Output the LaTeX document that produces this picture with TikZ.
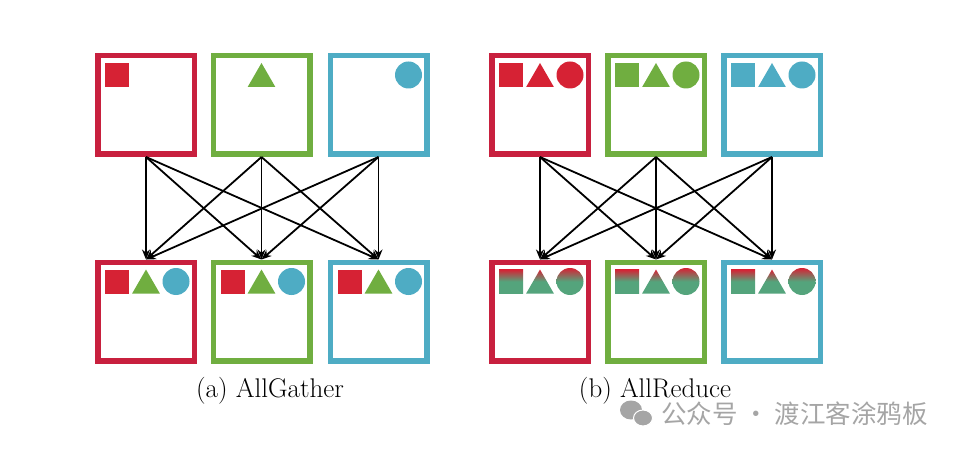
\documentclass[tikz,border=0pt]{standalone}
\usepackage{fontspec}
\newfontfamily\cjkfont{Noto Sans CJK SC}
\usetikzlibrary{shapes.geometric,arrows.meta,calc}
\definecolor{cred}{RGB}{200,32,62}
\definecolor{fred}{RGB}{214,34,52}
\definecolor{cgreen}{RGB}{112,174,64}
\definecolor{cblue}{RGB}{78,172,196}
\definecolor{cmix}{RGB}{84,164,124}
\definecolor{wmgray}{RGB}{165,165,165}
\tikzset{
  every picture/.style={>={Stealth[length=10pt,width=8pt]}}}

\begin{document}
\begin{tikzpicture}[x=1pt, y=-1pt,
    gpu/.style={
      draw=#1, line width=5.5pt, fill=white,
      minimum width=96.5pt, minimum height=98.5pt,
      inner sep=0pt},
    sq/.style={rectangle, minimum size=24pt, inner sep=0pt},
    tri/.style={regular polygon, regular polygon sides=3,
      minimum size=32pt, inner sep=0pt},
    crc/.style={circle, minimum size=27pt, inner sep=0pt},
    mix/.style={top color=fred, bottom color=cmix, middle color=cmix},
    link/.style={->, line width=1.8pt, black},
    caption/.style={font=\fontsize{27}{30}\selectfont, anchor=base}]

    \useasboundingbox (0,0) rectangle (960,454);

    % (a) AllGather
    \node[gpu=cred]   (ga1) at (146,105) {};
    \node[gpu=cgreen] (ga2) at (261.5,105) {};
    \node[gpu=cblue]  (ga3) at (378.5,105) {};
    \node[gpu=cred]   (gb1) at (146,311.5) {};
    \node[gpu=cgreen] (gb2) at (261.5,311.5) {};
    \node[gpu=cblue]  (gb3) at (378.5,311.5) {};

    \node[sq, fill=fred]    (ga1s) at ($(ga1)+(-29,-30)$) {};
    \node[tri, fill=cgreen] (ga2t) at ($(ga2)+(0,-26)$) {};
    \node[crc, fill=cblue]  (ga3c) at ($(ga3)+(30,-30)$) {};

    \node[sq, fill=fred]    (gb1s) at ($(gb1)+(-29,-30)$) {};
    \node[tri, fill=cgreen] (gb1t) at ($(gb1)+(0,-26)$) {};
    \node[crc, fill=cblue]  (gb1c) at ($(gb1)+(30,-30)$) {};
    \node[sq, fill=fred]    (gb2s) at ($(gb2)+(-29,-30)$) {};
    \node[tri, fill=cgreen] (gb2t) at ($(gb2)+(0,-26)$) {};
    \node[crc, fill=cblue]  (gb2c) at ($(gb2)+(30,-30)$) {};
    \node[sq, fill=fred]    (gb3s) at ($(gb3)+(-29,-30)$) {};
    \node[tri, fill=cgreen] (gb3t) at ($(gb3)+(0,-26)$) {};
    \node[crc, fill=cblue]  (gb3c) at ($(gb3)+(30,-30)$) {};

    \draw[link] (ga1.south) -- (gb1.north);
    \draw[link] (ga1.south) -- (gb2.north);
    \draw[link] (ga1.south) -- (gb3.north);
    \draw[link] (ga2.south) -- (gb1.north);
    \draw[link] (ga2.south) -- (gb2.north);
    \draw[link] (ga2.south) -- (gb3.north);
    \draw[link] (ga3.south) -- (gb1.north);
    \draw[link] (ga3.south) -- (gb2.north);
    \draw[link] (ga3.south) -- (gb3.north);

    \node[caption] (capa) at (270,397) {(a) AllGather};

    % (b) AllReduce
    \node[gpu=cred]   (ra1) at (540,105) {};
    \node[gpu=cgreen] (ra2) at (656,105) {};
    \node[gpu=cblue]  (ra3) at (772,105) {};
    \node[gpu=cred]   (rb1) at (540,311.5) {};
    \node[gpu=cgreen] (rb2) at (656,311.5) {};
    \node[gpu=cblue]  (rb3) at (772,311.5) {};

    \node[sq, fill=fred]    (ra1s) at ($(ra1)+(-29,-30)$) {};
    \node[tri, fill=fred]   (ra1t) at ($(ra1)+(0,-26)$) {};
    \node[crc, fill=fred]   (ra1c) at ($(ra1)+(30,-30)$) {};
    \node[sq, fill=cgreen]  (ra2s) at ($(ra2)+(-29,-30)$) {};
    \node[tri, fill=cgreen] (ra2t) at ($(ra2)+(0,-26)$) {};
    \node[crc, fill=cgreen] (ra2c) at ($(ra2)+(30,-30)$) {};
    \node[sq, fill=cblue]   (ra3s) at ($(ra3)+(-29,-30)$) {};
    \node[tri, fill=cblue]  (ra3t) at ($(ra3)+(0,-26)$) {};
    \node[crc, fill=cblue]  (ra3c) at ($(ra3)+(30,-30)$) {};

    \node[sq, mix]  (rb1s) at ($(rb1)+(-29,-30)$) {};
    \node[tri, mix] (rb1t) at ($(rb1)+(0,-26)$) {};
    \node[crc, mix] (rb1c) at ($(rb1)+(30,-30)$) {};
    \node[sq, mix]  (rb2s) at ($(rb2)+(-29,-30)$) {};
    \node[tri, mix] (rb2t) at ($(rb2)+(0,-26)$) {};
    \node[crc, mix] (rb2c) at ($(rb2)+(30,-30)$) {};
    \node[sq, mix]  (rb3s) at ($(rb3)+(-29,-30)$) {};
    \node[tri, mix] (rb3t) at ($(rb3)+(0,-26)$) {};
    \node[crc, mix] (rb3c) at ($(rb3)+(30,-30)$) {};

    \draw[link] (ra1.south) -- (rb1.north);
    \draw[link] (ra1.south) -- (rb2.north);
    \draw[link] (ra1.south) -- (rb3.north);
    \draw[link] (ra2.south) -- (rb1.north);
    \draw[link] (ra2.south) -- (rb2.north);
    \draw[link] (ra2.south) -- (rb3.north);
    \draw[link] (ra3.south) -- (rb1.north);
    \draw[link] (ra3.south) -- (rb2.north);
    \draw[link] (ra3.south) -- (rb3.north);

    \node[caption] (capb) at (655,397) {(b) AllReduce};

    % watermark
    \fill[wmgray] (631,410) ellipse [x radius=11, y radius=9.5];
    \fill[wmgray, draw=white, line width=1pt] (643,418) ellipse [x radius=9.5, y radius=8];
    \node[anchor=west, text=wmgray, inner sep=0pt,
          font=\cjkfont\fontsize{25.5}{28}\selectfont] (wm) at (661,414)
      {公众号 · 渡江客涂鸦板};
  \end{tikzpicture}
\end{document}
